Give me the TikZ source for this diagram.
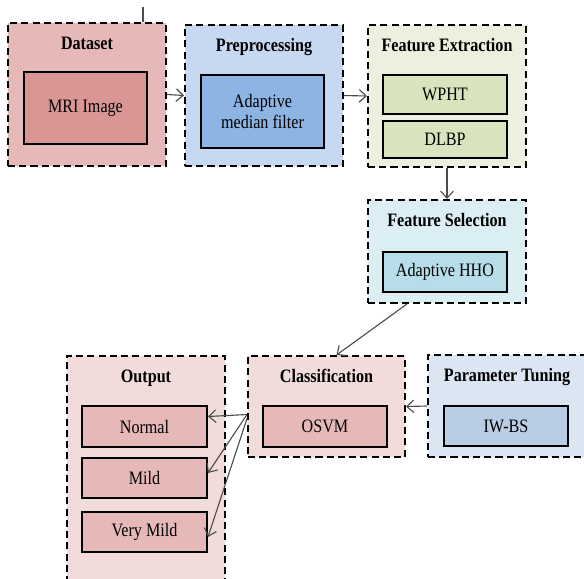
\documentclass[tikz,border=0pt]{standalone}
\usepackage{fontspec}
\setmainfont{LiberationSerif-Regular.ttf}[BoldFont=LiberationSerif-Bold.ttf, FakeStretch=0.85]
\usetikzlibrary{calc,arrows.meta,positioning}
\definecolor{dataout}{HTML}{E6B9B8}
\definecolor{datain}{HTML}{D99694}
\definecolor{prepout}{HTML}{C6D9F1}
\definecolor{prepin}{HTML}{8DB4E2}
\definecolor{featout}{HTML}{EBF1DE}
\definecolor{featin}{HTML}{D7E4BD}
\definecolor{selout}{HTML}{DBEEF4}
\definecolor{selin}{HTML}{B7DEE8}
\definecolor{clsout}{HTML}{F2DCDB}
\definecolor{clsin}{HTML}{E6B9B8}
\definecolor{tuneout}{HTML}{DCE6F2}
\definecolor{tunein}{HTML}{B9CDE5}
\tikzstyle{stage} = [rectangle, draw=black, line width=1.4pt, dash pattern=on 5pt off 3pt, minimum width=3.95cm]
\tikzstyle{block} = [rectangle, draw=black, line width=1.4pt, minimum width=3.1cm, minimum height=1cm, text centered, align=center, font=\fontsize{13.5}{15}\selectfont]
\tikzstyle{heading} = [anchor=base, inner sep=0pt, font=\fontsize{13.5}{15}\selectfont\bfseries]
\tikzstyle{arrow} = [-{Straight Barb[length=5pt,width=9pt]}, draw=black!70, line width=0.8pt]

\begin{document}
\begin{tikzpicture}
\useasboundingbox (0,0) rectangle (14.6,-14.45);
\clip (0,0) rectangle (14.6,-14.45);

% top row
\node (dataset) [stage, fill=dataout, minimum height=3.575cm] at (2.175,-2.3625) {};
\node (datasettitle) [heading] at ($(dataset.north)+(0,-0.68)$) {Dataset};
\node (mri) [block, fill=datain, minimum width=3.075cm, minimum height=1.8cm] at (2.1375,-2.7) {MRI Image};

\node (prep) [stage, fill=prepout, minimum height=3.525cm] at (6.6,-2.3875) {};
\node (preptitle) [heading] at ($(prep.north)+(0,-0.68)$) {Preprocessing};
\node (filter) [block, fill=prepin, minimum width=3.075cm, minimum height=1.825cm] at (6.5625,-2.7875) {Adaptive\\median filter};

\node (extract) [stage, fill=featout, minimum height=3.55cm] at (11.175,-2.4) {};
\node (extracttitle) [heading] at ($(extract.north)+(0,-0.68)$) {Feature Extraction};
\node (wpht) [block, fill=featin, minimum height=0.975cm] at (11.125,-2.3625) {WPHT};
\node (dlbp) [block, fill=featin, minimum height=0.925cm] at (11.125,-3.4875) {DLBP};

\node (select) [stage, fill=selout, minimum height=2.575cm] at (11.175,-6.2875) {};
\node (selecttitle) [heading] at ($(select.north)+(0,-0.68)$) {Feature Selection};
\node (hho) [block, fill=selin] at (11.125,-6.8) {Adaptive HHO};

% bottom row
\node (classify) [stage, fill=clsout, minimum width=3.925cm, minimum height=2.525cm] at (8.1625,-10.1625) {};
\node (classifytitle) [heading] at ($(classify.north)+(0,-0.68)$) {Classification};
\node (osvm) [block, fill=clsin, minimum height=1.025cm] at (8.125,-10.6625) {OSVM};

\node (output) [stage, fill=clsout, minimum height=6cm] at (3.65,-11.9) {};
\node (outputtitle) [heading] at ($(output.north)+(0,-0.68)$) {Output};
\node (normal) [block, fill=clsin, minimum width=3.125cm, minimum height=1.025cm] at (3.6125,-10.6625) {Normal};
\node (mild) [block, fill=clsin, minimum width=3.125cm] at (3.6125,-11.95) {Mild};
\node (verymild) [block, fill=clsin, minimum width=3.125cm] at (3.6125,-13.3) {Very Mild};

\node (tuning) [stage, fill=tuneout, minimum height=2.55cm] at (12.675,-10.15) {};
\node (tuningtitle) [heading] at ($(tuning.north)+(0,-0.68)$) {Parameter Tuning};
\node (iwbs) [block, fill=tunein] at (12.65,-10.65) {IW-BS};

\coordinate (tick) at (3.575,-0.175);
\draw [draw=black!70, line width=0.8pt] (tick) -- (tick |- dataset.north);

\draw [arrow] (dataset.east) -- (prep.west);
\draw [arrow] (prep.east) -- (extract.west);
\draw [arrow] (extract.south) -- (select.north);
\draw [arrow] ([xshift=-1cm]select.south) -- ([xshift=0.25cm]classify.north);
\draw [arrow] (tuning.west) -- (classify.east);
\draw [arrow] ([yshift=-0.2cm]classify.west) -- ([yshift=0.25cm]normal.east);
\draw [arrow] ([yshift=-0.2cm]classify.west) -- ([yshift=0.125cm]mild.east);
\draw [arrow] ([yshift=-0.3cm]classify.west) -- ([yshift=-0.125cm]verymild.east);
\end{tikzpicture}
\end{document}
